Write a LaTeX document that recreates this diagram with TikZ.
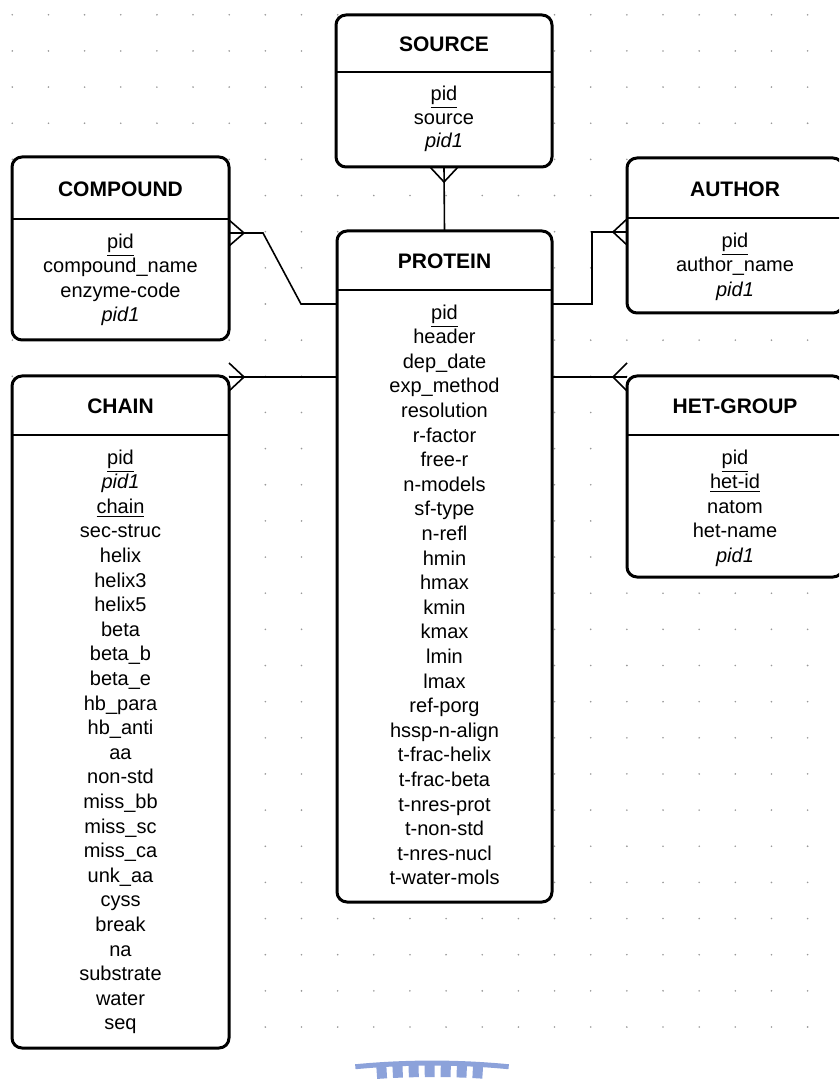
\documentclass[tikz,border=0pt]{standalone}
\usepackage{fontspec}
\setmainfont{Liberation Sans}
\usepackage{tikz}
\definecolor{markblue}{RGB}{140,162,218}
\tikzset{entity/.style={draw, fill=white, line width=1.5pt, rounded corners=5pt, inner sep=0pt, outer sep=0pt, anchor=north west},
  title/.style={font=\fontsize{10.5}{12}\selectfont\bfseries, inner sep=0pt},
  attr/.style={font=\fontsize{10}{12}\selectfont, anchor=base, inner sep=0pt},
  link/.style={line width=0.8pt}, sepline/.style={line width=0.8pt},
  griddot/.style={fill=gray!80}}

\begin{document}
\begin{tikzpicture}[x=0.5pt, y=-0.5pt]
    \useasboundingbox (0,0) rectangle (839,1079);
    \clip (0,0) rectangle (839,1079);
    \foreach \i in {0,...,22} {
      \foreach \j in {0,...,28} {
        \fill[griddot] (12.3+36.15*\i, 14.8+36.15*\j) circle (0.45pt);
      }
    }
    \draw[markblue, line width=2.5pt] (432,1863) ++(-95.5:800) arc (-95.5:-84.5:800);
    \draw[markblue, line width=6pt, dash pattern=on 5pt off 3pt] (432,1863) ++(-94:792) arc (-94:-86:792);
    % SOURCE
    \node[entity, minimum width=108pt, minimum height=76pt] (source) at (336,15) {};
    \node[title] (source-t) at (source.north |- 0,44) {SOURCE};
    \draw[sepline] (source.west |- 0,72) -- (source.east |- 0,72);
    \foreach \a [count=\i] in {\underline{pid},source,\textit{pid1}}
      \node[attr] (source-a\i) at (source.north |- 0,72+4.5+23.8*\i) {\a};
    % COMPOUND
    \node[entity, minimum width=108.5pt, minimum height=91.5pt] (compound) at (12,157) {};
    \node[title] (compound-t) at (compound.north |- 0,189) {COMPOUND};
    \draw[sepline] (compound.west |- 0,219) -- (compound.east |- 0,219);
    \foreach \a [count=\i] in {\underline{pid},compound\_name,enzyme-code,\textit{pid1}}
      \node[attr] (compound-a\i) at (compound.north |- 0,219+4.5+24.6*\i) {\a};
    % AUTHOR
    \node[entity, minimum width=108pt, minimum height=77.5pt] (author) at (627,158) {};
    \node[title] (author-t) at (author.north |- 0,189) {AUTHOR};
    \draw[sepline] (author.west |- 0,218) -- (author.east |- 0,218);
    \foreach \a [count=\i] in {\underline{pid},author\_name,\textit{pid1}}
      \node[attr] (author-a\i) at (author.north |- 0,218+4.5+24.6*\i) {\a};
    % PROTEIN
    \node[entity, minimum width=107.5pt, minimum height=335.5pt] (protein) at (337,231) {};
    \node[title] (protein-t) at (protein.north |- 0,261) {PROTEIN};
    \draw[sepline] (protein.west |- 0,290) -- (protein.east |- 0,290);
    \foreach \a [count=\i] in {\underline{pid},header,dep\_date,exp\_method,resolution,r-factor,free-r,n-models,sf-type,n-refl,hmin,hmax,kmin,kmax,lmin,lmax,ref-porg,hssp-n-align,t-frac-helix,t-frac-beta,t-nres-prot,t-non-std,t-nres-nucl,t-water-mols}
      \node[attr] (protein-a\i) at (protein.north |- 0,290+4.5+24.6*\i) {\a};
    % CHAIN
    \node[entity, minimum width=108.5pt, minimum height=336pt] (chain) at (12,376) {};
    \node[title] (chain-t) at (chain.north |- 0,406) {CHAIN};
    \draw[sepline] (chain.west |- 0,435) -- (chain.east |- 0,435);
    \foreach \a [count=\i] in {\underline{pid},\textit{pid1},\underline{chain},sec-struc,helix,helix3,helix5,beta,beta\_b,beta\_e,hb\_para,hb\_anti,aa,non-std,miss\_bb,miss\_sc,miss\_ca,unk\_aa,cyss,break,na,substrate,water,seq}
      \node[attr] (chain-a\i) at (chain.north |- 0,435+4.5+24.6*\i) {\a};
    % HET-GROUP
    \node[entity, minimum width=108pt, minimum height=100.5pt] (het) at (627,376) {};
    \node[title] (het-t) at (het.north |- 0,406) {HET-GROUP};
    \draw[sepline] (het.west |- 0,435) -- (het.east |- 0,435);
    \foreach \a [count=\i] in {\underline{pid},\underline{het-id},natom,het-name,\textit{pid1}}
      \node[attr] (het-a\i) at (het.north |- 0,435+4.5+24.6*\i) {\a};
    % links
    \draw[link] (source.south) -- (protein.north);
    \draw[link] ([xshift=-7pt]source.south) -- ++(14,15) -- ++(14,-15);
    \draw[link] (compound.east |- 0,233) -- ++(34,0) -- ++(38,71) -- (protein.west |- 0,304);
    \draw[link] (compound.east |- 0,220) -- ++(15,13) -- ++(-15,13);
    \draw[link] (protein.east |- 0,304) -- ++(40,0) |- (author.west |- 0,232);
    \draw[link] (author.west |- 0,219) -- ++(-14,13) -- ++(14,13);
    \draw[link] (protein.west |- 0,377) -- (chain.east |- 0,377);
    \draw[link] (chain.east |- 0,363) -- ++(15,14) -- ++(-15,14);
    \draw[link] (protein.east |- 0,377) -- (het.west |- 0,377);
    \draw[link] (het.west |- 0,363) -- ++(-14,14) -- ++(14,14);
\end{tikzpicture}
\end{document}
